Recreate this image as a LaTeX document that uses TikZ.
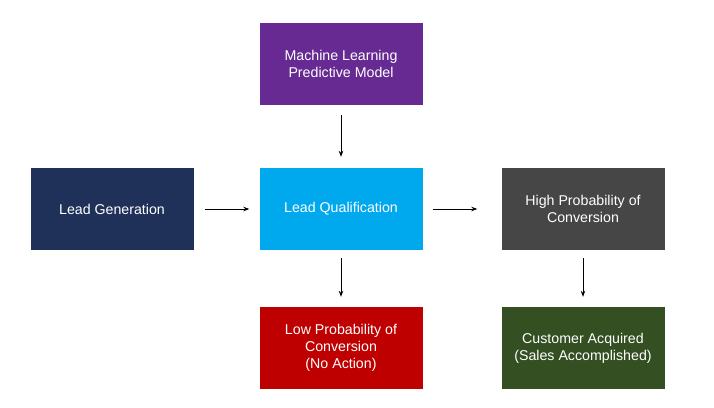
\documentclass[tikz,border=0pt]{standalone}
\usepackage{fontspec}
\setmainfont{Liberation Sans}
\usetikzlibrary{arrows.meta}
\definecolor{mlpurple}{HTML}{662A92}
\definecolor{leadnavy}{HTML}{1F3158}
\definecolor{qualcyan}{HTML}{00A8EE}
\definecolor{highgrey}{HTML}{464646}
\definecolor{lowred}{HTML}{BE0000}
\definecolor{custgreen}{HTML}{344F22}
\begin{document}
\begin{tikzpicture}[x=1pt, y=-1pt,
    box/.style={minimum width=163pt, minimum height=82pt, inner sep=0pt, text=white,
        align=center, font=\fontsize{14.2}{17}\selectfont},
    flow/.style={-{Stealth[length=6pt,width=4.5pt]}, line width=0.9pt}]
    \useasboundingbox (0,0) rectangle (714,407);
    \node[box, fill=mlpurple] (ml) at (341,64) {Machine Learning\\Predictive Model};
    \node[box, fill=leadnavy] (gen) at (112,209) {Lead Generation};
    \node[box, fill=qualcyan] (qual) at (341,209) {Lead Qualification};
    \node[box, fill=highgrey] (high) at (583,209) {High Probability of\\Conversion};
    \node[box, fill=lowred] (low) at (341,348) {Low Probability of\\Conversion\\(No Action)};
    \node[box, fill=custgreen] (cust) at (583,348) {Customer Acquired\\(Sales Accomplished)};
    \draw [flow, shorten <=10pt, shorten >=11pt] (ml) -- (qual);
    \draw [flow, shorten <=11pt, shorten >=10pt] (gen) -- (qual);
    \draw [flow, shorten <=10pt, shorten >=24pt] (qual) -- (high);
    \draw [flow, shorten <=8pt, shorten >=10pt] (qual) -- (low);
    \draw [flow, shorten <=8pt, shorten >=10pt] (high) -- (cust);
\end{tikzpicture}
\end{document}
